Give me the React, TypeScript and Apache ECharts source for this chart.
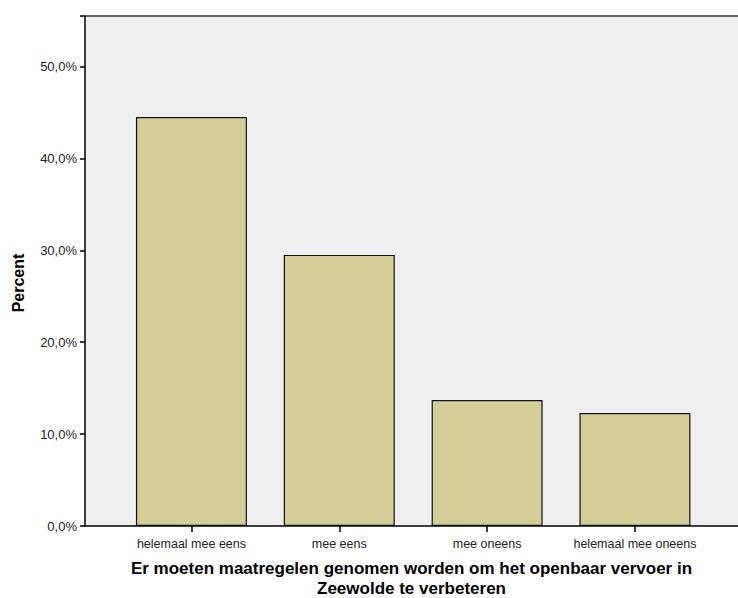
import React, { useEffect, useRef } from "react";
import * as echarts from "echarts";

const categories = ["helemaal mee eens", "mee eens", "mee oneens", "helemaal mee oneens"];
const percentValues = [44.5, 29.5, 13.7, 12.3];
const yTicks = [0, 10, 20, 30, 40, 50];
const xTitle = "Er moeten maatregelen genomen worden om het openbaar vervoer in\nZeewolde te verbeteren";
const yTitle = "Percent";

export default function App() {
  const ref = useRef<HTMLDivElement>(null);
  useEffect(() => {
    if (!ref.current) return;
    const chart = echarts.init(ref.current, undefined, { renderer: "svg" });
    const positions = categories.map((_, i) => i);
    chart.setOption({
      animation: false,
      backgroundColor: "#ffffff",
      textStyle: { fontFamily: "Liberation Sans, Arial, sans-serif" },
      grid: {
        left: 85,
        right: 0,
        top: 16,
        bottom: 72,
        show: true,
        backgroundColor: "#efefef",
        borderWidth: 0,
        containLabel: false,
        outerBoundsMode: "none",
      },
      xAxis: {
        type: "value",
        min: -0.72,
        max: 3.697,
        axisLine: { show: true, onZero: false, lineStyle: { color: "#000", width: 1.5 } },
        axisTick: { show: true, customValues: positions, length: 6, lineStyle: { color: "#000", width: 1.5 } },
        axisLabel: {
          show: true,
          customValues: positions,
          formatter: (v: number) => categories[Math.round(v)] ?? "",
          color: "#222",
          fontSize: 12.5,
          margin: 11,
        },
        splitLine: { show: false },
        name: xTitle,
        nameLocation: "middle",
        nameGap: 33,
        nameTextStyle: { fontSize: 17, fontWeight: "bold", color: "#000", lineHeight: 19.5 },
      },
      yAxis: {
        type: "value",
        min: 0,
        max: 55.5,
        interval: 10,
        axisLine: { show: true, onZero: false, lineStyle: { color: "#000", width: 1.5 } },
        axisTick: { show: true, length: 5, lineStyle: { color: "#000", width: 1.5 } },
        axisLabel: {
          color: "#222",
          fontSize: 13,
          margin: 8,
          formatter: (v: number) => (yTicks.includes(v) ? v.toFixed(1).replace(".", ",") + "%" : ""),
        },
        splitLine: { show: false },
      },
      graphic: [
        {
          type: "line",
          shape: { x1: 85, y1: 16, x2: 738, y2: 16 },
          style: { stroke: "#333", lineWidth: 1.5 },
        },
        {
          type: "text",
          x: 18,
          y: 283,
          rotation: Math.PI / 2,
          style: {
            text: yTitle,
            fontSize: 16,
            fontWeight: "bold",
            fill: "#000",
            align: "center",
            verticalAlign: "middle",
            fontFamily: "Liberation Sans, Arial, sans-serif",
          },
        },
      ],
      series: [
        {
          type: "bar",
          data: percentValues.map((v, i) => [i, v]),
          barWidth: 111,
          itemStyle: { color: "#d3ce98", borderColor: "#111", borderWidth: 1.2 },
        },
      ],
    });
    return () => chart.dispose();
  }, []);
  return (
    <div
      ref={ref}
      style={{ position: "fixed", left: 0, top: 0, width: 738, height: 598 }}
    />
  );
}
